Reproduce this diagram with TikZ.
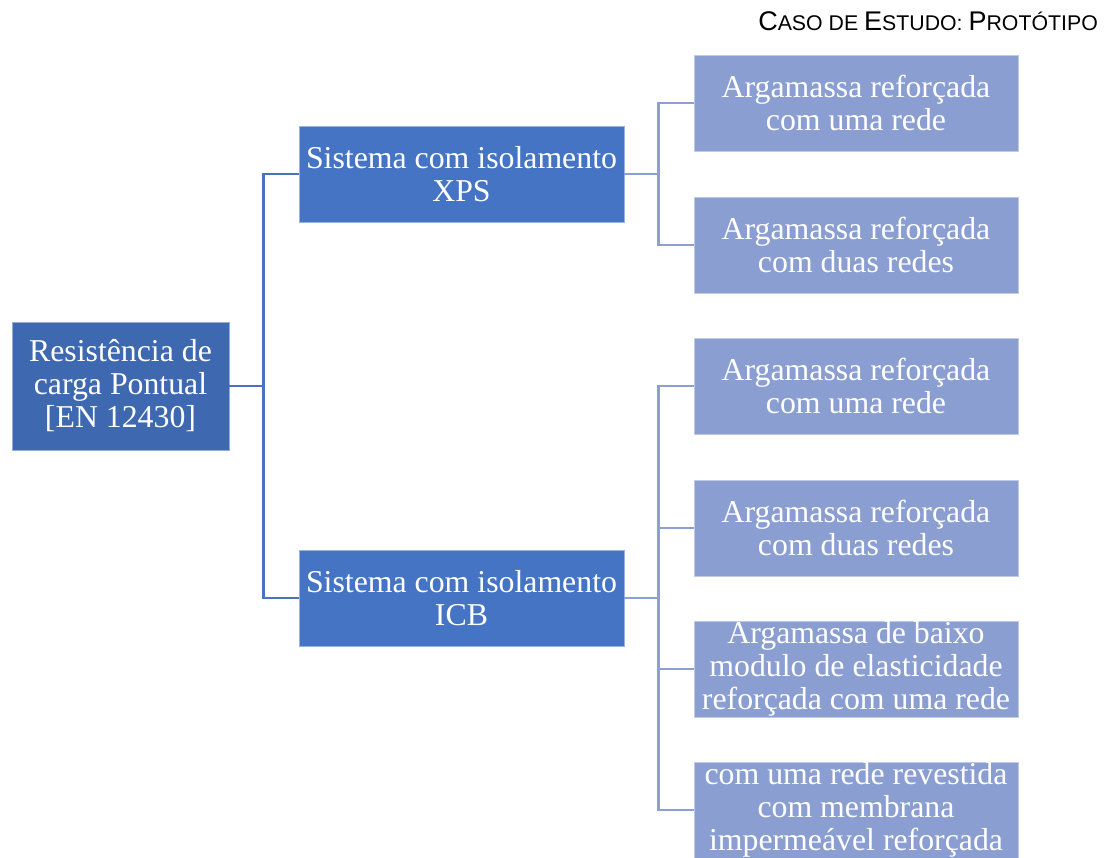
\documentclass[tikz,border=0pt]{standalone}
\usepackage{fontspec}
\setmainfont{Liberation Serif}
\newfontfamily\hdrfont{Liberation Sans}
\definecolor{rootblue}{HTML}{3E68B0}
\definecolor{midblue}{HTML}{4674C4}
\definecolor{lightblue}{HTML}{8A9ED1}
\definecolor{lineblue}{HTML}{4A72C0}
\definecolor{lightline}{HTML}{8CA0D3}
\newcommand{\hbigsz}{\fontsize{27}{27}\selectfont}
\newcommand{\hsmallsz}{\fontsize{21.3}{22}\selectfont}
\begin{document}
\begin{tikzpicture}[x=1pt,y=-1pt,
  boxbase/.style={rectangle, inner sep=0pt, text=white, align=center,
    font=\fontsize{31.8}{33}\selectfont, line width=0.8pt},
  rootbox/.style={boxbase, fill=rootblue, draw=rootblue!55!white,
    minimum width=217pt, minimum height=128pt},
  midbox/.style={boxbase, fill=midblue, draw=midblue!55!white,
    minimum width=325pt, minimum height=96pt},
  leafbox/.style={boxbase, fill=lightblue, draw=lightblue!55!white,
    minimum width=324pt, minimum height=96pt},
  connA/.style={draw=lineblue, line width=2.4pt},
  connB/.style={draw=lightline, line width=2.4pt}]
\useasboundingbox (0,0) rectangle (1113,857);
\clip (0,0) rectangle (1113,857);

\node[anchor=base east, inner sep=0pt] (hdr) at (1098,30.5)
  {\hdrfont\hbigsz C\hsmallsz ASO DE \hbigsz E\hsmallsz STUDO: \hbigsz P\hsmallsz ROTÓTIPO};

\node[rootbox] (root) at (120.5,386) {Resistência de\\carga Pontual\\{[EN 12430]}};

\node[midbox] (xps) at (461.5,174) {Sistema com isolamento\\XPS};
\node[midbox] (icb) at (461.5,598) {Sistema com isolamento\\ICB};

\node[leafbox] (a1) at (856,103) {Argamassa reforçada\\com uma rede};
\node[leafbox] (a2) at (856,245) {Argamassa reforçada\\com duas redes};
\node[leafbox] (b1) at (856,386) {Argamassa reforçada\\com uma rede};
\node[leafbox] (b2) at (856,528) {Argamassa reforçada\\com duas redes};
\node[leafbox] (b3) at (856,669) {Argamassa de baixo\\modulo de elasticidade\\reforçada com uma rede};
\node[leafbox] (b4) at (856,810) {com uma rede revestida\\com membrana\\impermeável reforçada};

\draw[connA] (root.east) -- ++(34,0) coordinate (j0);
\draw[connA] (j0) |- (xps.west);
\draw[connA] (j0) |- (icb.west);

\draw[connB] (xps.east) -- ++(34,0) coordinate (j1);
\draw[connB] (j1) |- (a1.west);
\draw[connB] (j1) |- (a2.west);

\draw[connB] (icb.east) -- ++(34,0) coordinate (j2);
\draw[connB] (j2) |- (b1.west);
\draw[connB] (j2) |- (b2.west);
\draw[connB] (j2) |- (b3.west);
\draw[connB] (j2) |- (b4.west);
\end{tikzpicture}
\end{document}
